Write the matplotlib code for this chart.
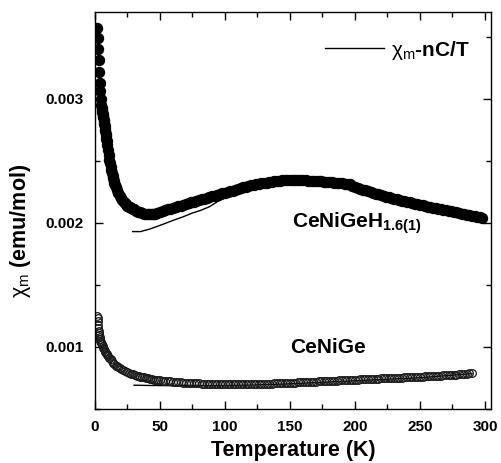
import numpy as np
import matplotlib
matplotlib.use('Agg')
import matplotlib.pyplot as plt
from matplotlib.ticker import MultipleLocator, FormatStrFormatter

plt.rcParams['font.family'] = ['Liberation Sans', 'DejaVu Sans']
plt.rcParams['font.weight'] = 'bold'
plt.rcParams['mathtext.fontset'] = 'custom'
plt.rcParams['mathtext.rm'] = 'Liberation Sans:weight=normal'
plt.rcParams['mathtext.it'] = 'Liberation Sans:italic:weight=normal'
plt.rcParams['mathtext.bf'] = 'Liberation Sans:weight=bold'

# CeNiGeH1.6(1), measured chi_m (values in 1e-6 emu/mol)
t_hyd_low = [1.8, 2.2, 2.6, 3.0, 3.4, 3.8, 4.2, 4.6,
             5.0, 5.25, 5.5, 5.75, 6.0, 6.25, 6.5, 6.75, 7.0, 7.25, 7.5, 7.75, 8.0, 8.25,
             8.5, 8.75, 9.0, 9.5, 10, 10.5, 11, 11.5, 12, 12.5, 13, 13.5, 14, 14.5, 15,
             15.5, 16, 17, 18, 19, 20, 21, 22, 23, 24, 25, 26, 27, 28, 29, 30, 31.5, 33,
             34.5, 36, 37.5, 39, 40.5, 42, 43.5, 45, 46.5, 48]
chi_hyd_low = [3570, 3490, 3400, 3310, 3220, 3130, 3060, 3000,
               2950, 2930, 2910, 2895, 2880, 2865, 2850, 2830, 2810, 2795, 2780, 2760, 2740,
               2720, 2700, 2680, 2660, 2625, 2590, 2550, 2510, 2480, 2450, 2425, 2400, 2380,
               2360, 2340, 2320, 2305, 2290, 2265, 2240, 2220, 2200, 2185, 2170, 2160, 2150,
               2140, 2130, 2125, 2120, 2115, 2110, 2100, 2090, 2085, 2080, 2075, 2070, 2070,
               2068, 2068, 2070, 2075, 2082]
t_hyd_high = np.arange(50, 299, 2)
chi_hyd_high = [2090, 2097, 2103, 2110, 2116, 2122, 2128, 2134, 2140, 2146,            # 50-68
                2152, 2158, 2165, 2171, 2177, 2183, 2189, 2195, 2201, 2207,            # 70-88
                2214, 2220, 2226, 2232, 2238, 2244, 2250, 2255, 2261, 2266,            # 90-108
                2275, 2281, 2287, 2293, 2299, 2304, 2308, 2312, 2315, 2318,            # 110-128
                2321, 2324, 2328, 2331, 2334, 2337, 2340, 2342, 2344, 2345,            # 130-148
                2346, 2346, 2346, 2345, 2344, 2343, 2342, 2341, 2340, 2339,            # 150-168
                2338, 2336, 2334, 2332, 2330, 2328, 2326, 2324, 2322, 2320,            # 170-188
                2318, 2316, 2314, 2310, 2296, 2288, 2281, 2275, 2268, 2262,            # 190-208
                2255, 2249, 2242, 2236, 2229, 2223, 2216, 2210, 2205, 2200,            # 210-228
                2195, 2190, 2185, 2180, 2175, 2170, 2165, 2160, 2155, 2150,            # 230-248
                2145, 2141, 2136, 2132, 2127, 2123, 2119, 2114, 2110, 2105,            # 250-268
                2101, 2097, 2092, 2088, 2084, 2079, 2075, 2071, 2066, 2062,            # 270-288
                2058, 2053, 2049, 2045, 2040]                                          # 290-298

# CeNiGeH1.6(1), chi_m - nC/T
t_hyd_fit = [29, 35, 42, 50, 55, 60, 68, 75, 81, 88, 94, 100, 106, 114, 120, 140, 160, 180,
             200, 225, 250, 275, 298]
chi_hyd_fit = [1930, 1930, 1950, 1980, 2000, 2020, 2050, 2080, 2100, 2130, 2170, 2200,
               2230, 2260, 2280, 2320, 2330, 2310, 2280, 2200, 2140, 2080, 2030]

# CeNiGe, measured chi_m
t_ge_low = [1.8, 2.0, 2.2, 2.4, 2.6, 2.8, 3.0, 3.25, 3.5, 3.75, 4, 4.5, 5, 5.5, 6, 6.5, 7,
            7.5, 8, 8.5, 9, 9.5, 10, 11, 12, 13, 14, 15, 16, 17, 18, 19, 20, 21.5, 23, 24.5,
            26, 27.5, 29, 30.5, 32, 33.5, 35, 36.5, 38, 39.5, 41, 42.5, 44, 45.5, 47, 48.5]
chi_ge_low = [1250, 1230, 1210, 1180, 1150, 1130, 1110, 1095, 1080, 1065, 1050, 1040, 1030,
              1020, 1010, 995, 980, 970, 960, 950, 940, 935, 930, 915, 900, 885, 870, 860,
              850, 845, 840, 830, 820, 815, 810, 800, 790, 785, 780, 775, 770, 765, 760, 757,
              755, 752, 750, 745, 740, 737, 735, 732]
t_ge_high = np.arange(50, 291, 2)
chi_ge_high = [730, 728, 726, 724, 722, 720, 718, 716, 715, 713,    # 50-68
               712, 710, 709, 708, 707, 706, 705, 704, 703, 703,    # 70-88
               702, 702, 701, 701, 700, 700, 700, 700, 700, 700,    # 90-108
               700, 700, 700, 700, 700, 700, 701, 701, 702, 702,    # 110-128
               703, 704, 704, 705, 706, 706, 707, 708, 709, 710,    # 130-148
               711, 712, 713, 714, 715, 716, 717, 718, 719, 720,    # 150-168
               721, 722, 723, 724, 725, 726, 727, 728, 729, 730,    # 170-188
               731, 732, 733, 734, 735, 736, 737, 738, 739, 740,    # 190-208
               741, 742, 743, 744, 745, 746, 747, 748, 749, 750,    # 210-228
               751, 752, 753, 754, 755, 756, 757, 758, 759, 760,    # 230-248
               761, 762, 763, 764, 765, 766, 767, 768, 769, 771,    # 250-268
               772, 774, 775, 777, 778, 780, 782, 784, 786, 788,    # 270-288
               790]                                                  # 290

# CeNiGe, chi_m - nC/T
t_ge_fit = [30, 40, 50, 60, 70, 80, 100, 120, 150, 200, 250, 290]
chi_ge_fit = [692, 690, 689, 688, 688, 689, 690, 693, 703, 728, 752, 785]

scale = 1e-6
t_hyd = np.concatenate([t_hyd_low, t_hyd_high])
chi_hyd = np.concatenate([chi_hyd_low, chi_hyd_high]) * scale
t_ge = np.concatenate([t_ge_low, t_ge_high])
chi_ge = np.concatenate([chi_ge_low, chi_ge_high]) * scale

fig = plt.figure(figsize=(5.02, 4.63), dpi=100)
ax = fig.add_axes([0.1892, 0.1166, 0.7888, 0.8575])

fit_line, = ax.plot(t_hyd_fit, np.array(chi_hyd_fit) * scale, '-', color='black', lw=1.0, zorder=1)
ax.plot(t_ge_fit, np.array(chi_ge_fit) * scale, '-', color='black', lw=1.0, zorder=1)
ax.plot(t_hyd, chi_hyd, 'o', ms=7.2, color='black', mec='black', zorder=2)
ax.plot(t_ge, chi_ge, 'o', ms=5.5, mfc='none', mec='#1a1a1a', mew=0.9, zorder=2)

ax.set_xlim(0, 304.6)
ax.set_ylim(0.0005, 0.0037)
ax.xaxis.set_major_locator(MultipleLocator(50))
ax.xaxis.set_minor_locator(MultipleLocator(25))
ax.yaxis.set_major_locator(MultipleLocator(0.001))
ax.yaxis.set_minor_locator(MultipleLocator(0.0005))
ax.yaxis.set_major_formatter(FormatStrFormatter('%.3f'))
ax.tick_params(which='both', direction='in', top=True, right=True, width=1.0)
ax.tick_params(which='major', length=6, labelsize=11, pad=8)
ax.tick_params(which='minor', length=3.5)
for s in ax.spines.values():
    s.set_linewidth(1.0)

ax.set_xlabel('Temperature (K)', fontsize=15.5, fontweight='bold', labelpad=4)
ax.set_ylabel(r'$\mathrm{\chi_m}$ (emu/mol)', fontsize=15.5, fontweight='bold')
ax.yaxis.set_label_coords(-0.157, 0.448)

ax.text(151.5, 0.00196, r'CeNiGeH$_{\mathbf{1.6(1)}}$', fontsize=15, fontweight='bold',
        va='baseline')
ax.text(150, 0.000952, 'CeNiGe', fontsize=15, fontweight='bold', va='baseline')

ax.legend([fit_line], [r'$\mathrm{\chi_m}$-nC/T'], loc='center right',
          bbox_to_anchor=(0.947, 0.904), frameon=False, fontsize=15, borderpad=0,
          borderaxespad=0, handlelength=2.8, handletextpad=0.35)

fig.savefig('out.png', dpi=100)
